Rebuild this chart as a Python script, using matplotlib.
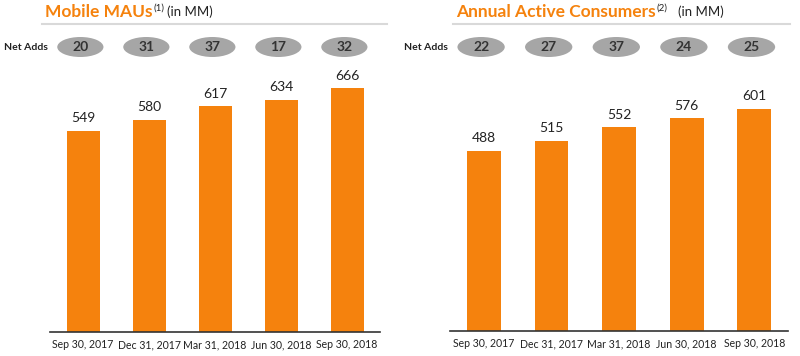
import matplotlib.pyplot as plt
from matplotlib.patches import Ellipse
import matplotlib.transforms as mtransforms

dates = ['Sep 30, 2017', 'Dec 31, 2017', 'Mar 31, 2018', 'Jun 30, 2018', 'Sep 30, 2018']
maus = [549, 580, 617, 634, 666]
maus_adds = [20, 31, 37, 17, 32]
consumers = [488, 515, 552, 576, 601]
consumers_adds = [22, 27, 37, 24, 25]

orange = '#F5820D'
plt.rcParams['font.family'] = ['Lato', 'DejaVu Sans']

W, H = 800, 356
fig = plt.figure(figsize=(8, 3.56), dpi=100)


def panel(x0, x1, base, ymax, values, adds, title, sup, line_x, gap):
    ax = fig.add_axes([x0 / W, (H - base) / H, (x1 - x0) / W, (base - 60) / H])
    x = range(len(values))
    ax.bar(x, values, width=0.5, color=orange)
    for i, v in enumerate(values):
        ax.text(i, v + 18, str(v), ha='center', va='bottom', fontsize=10, color='#222222')
    ax.set_xlim(-0.5, 4.5)
    ax.set_ylim(0, ymax)
    ax.set_xticks(list(x))
    ax.set_xticklabels(dates, fontsize=7.6, color='#222222')
    ax.tick_params(axis='x', length=0, pad=5)
    ax.set_yticks([])
    for s in ['top', 'right', 'left']:
        ax.spines[s].set_visible(False)
    ax.spines['bottom'].set_color('#333333')
    ax.spines['bottom'].set_linewidth(1.2)

    # net adds bubbles
    trans = mtransforms.blended_transform_factory(ax.transData, ax.transAxes)
    yc = (base - 47) / (base - 60)
    for i, a in enumerate(adds):
        e = Ellipse((i - 0.04, yc), 0.7, 20 / (base - 60), transform=trans,
                    facecolor='#A6A6A6', edgecolor='none', clip_on=False)
        ax.add_patch(e)
        ax.text(i - 0.04, yc, str(a), transform=trans, ha='center', va='center',
                fontsize=10, fontweight='bold', color='#333333')
    ax.text((x0 - 2) / W, (H - 47) / H, 'Net Adds', transform=fig.transFigure, ha='right',
            va='center', fontsize=7.5, fontweight='bold', color='#222222')

    # title and rule
    t = fig.text(line_x[0] + 3 / W, (H - 12) / H, title, ha='left', va='center',
                 fontsize=12.5, fontweight='bold', color=orange)
    fig.canvas.draw()
    bb = t.get_window_extent()
    fig.text(bb.x1 / W + 1 / W, (H - 8) / H, sup, ha='left', va='center',
             fontsize=7, color='#222222')
    fig.text(bb.x1 / W + gap / W, (H - 12) / H, '(in MM)', ha='left', va='center',
             fontsize=9.5, color='#222222')
    fig.add_artist(plt.Line2D(line_x, [(H - 24) / H] * 2, color='#D9D9D9',
                              linewidth=1.5, transform=fig.transFigure))
    return ax


panel(50, 380, 332, 743, maus, maus_adds, 'Mobile MAUs', '(1)', [42 / W, 387 / W], 15)
panel(450, 788, 331, 734, consumers, consumers_adds, 'Annual Active Consumers', '(2)',
      [453 / W, 790 / W], 22)

fig.savefig('out.png', dpi=100, facecolor='white')
